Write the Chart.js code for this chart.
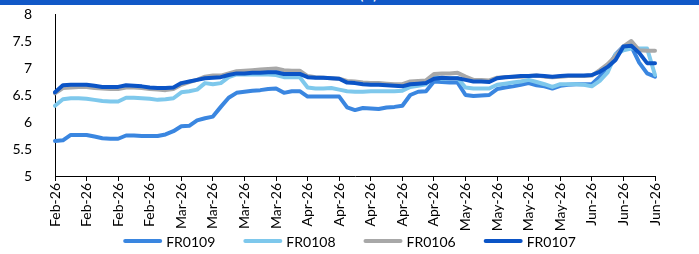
<!DOCTYPE html>
<html>
<head>
<meta charset="utf-8">
<script src="https://cdn.jsdelivr.net/npm/chart.js@4/dist/chart.umd.min.js"></script>
<style>
  html, body { margin: 0; padding: 0; background: #fff; }
  #wrap { position: relative; width: 699px; height: 254px; overflow: hidden; }
  #bar { position: absolute; left: 0; top: 0; width: 699px; height: 5px; background: #1158c7; overflow: hidden; }
  #bar span { position: absolute; left: 360px; top: -12px; color: #fff; font: bold 12px Lato, sans-serif; }
  canvas { position: absolute; left: 0; top: 0; }
</style>
</head>
<body>
<div id="wrap">
  <canvas id="c" width="699" height="254"></canvas>
  <div id="bar"><span>(%)</span></div>
</div>
<script>
// Tick labels shown on the x axis (one every 4 observations)
const tickLabels = ['Feb-26','Feb-26','Feb-26','Feb-26','Mar-26','Mar-26','Mar-26','Mar-26',
  'Apr-26','Apr-26','Apr-26','Apr-26','Apr-26','May-26','May-26','May-26','May-26',
  'Jun-26','Jun-26','Jun-26'];
const pointsPerTick = 4;
// Observation categories (index of each observation)
const categories = Array.from({length: 77}, (_, i) => i);

const fr0109 = [5.65,5.66,5.76,5.76,5.76,5.73,5.70,5.69,5.69,5.75,5.75,5.74,5.74,5.74,5.77,5.83,
  5.92,5.93,6.03,6.07,6.10,6.28,6.45,6.54,6.56,6.58,6.59,6.61,6.62,6.54,6.57,6.57,
  6.47,6.47,6.47,6.47,6.47,6.27,6.22,6.26,6.25,6.24,6.27,6.28,6.30,6.50,6.56,6.57,
  6.75,6.74,6.73,6.73,6.50,6.48,6.49,6.50,6.61,6.64,6.66,6.69,6.72,6.68,6.66,6.62,
  6.67,6.69,6.70,6.70,6.70,6.84,7.00,7.25,7.40,7.40,7.10,6.90,6.84];
const fr0108 = [6.30,6.42,6.44,6.44,6.43,6.41,6.39,6.38,6.38,6.45,6.45,6.44,6.43,6.41,6.42,6.44,
  6.55,6.57,6.60,6.72,6.70,6.72,6.83,6.88,6.88,6.88,6.88,6.88,6.87,6.83,6.83,6.83,
  6.64,6.62,6.62,6.63,6.60,6.57,6.56,6.56,6.57,6.57,6.57,6.57,6.58,6.65,6.67,6.70,
  6.86,6.80,6.81,6.81,6.64,6.62,6.62,6.62,6.69,6.71,6.73,6.75,6.78,6.74,6.70,6.65,
  6.70,6.70,6.70,6.69,6.66,6.76,6.92,7.25,7.33,7.36,7.36,7.36,6.87];
const fr0106 = [6.53,6.63,6.64,6.65,6.65,6.63,6.62,6.61,6.61,6.64,6.64,6.63,6.61,6.60,6.59,6.61,
  6.69,6.74,6.78,6.84,6.86,6.86,6.90,6.94,6.95,6.96,6.97,6.98,6.99,6.96,6.95,6.95,
  6.85,6.83,6.82,6.81,6.80,6.76,6.75,6.73,6.72,6.72,6.71,6.70,6.70,6.75,6.76,6.77,
  6.89,6.90,6.90,6.91,6.84,6.78,6.78,6.77,6.82,6.83,6.84,6.84,6.85,6.86,6.84,6.83,
  6.84,6.85,6.85,6.85,6.86,6.96,7.07,7.22,7.40,7.50,7.33,7.32,7.32];
const fr0107 = [6.55,6.68,6.69,6.69,6.69,6.67,6.65,6.65,6.65,6.68,6.67,6.66,6.64,6.63,6.63,6.64,
  6.72,6.75,6.78,6.81,6.82,6.83,6.87,6.90,6.90,6.91,6.91,6.92,6.92,6.89,6.89,6.89,
  6.83,6.82,6.82,6.81,6.80,6.73,6.72,6.70,6.69,6.69,6.68,6.67,6.66,6.70,6.71,6.72,
  6.80,6.82,6.81,6.81,6.78,6.75,6.75,6.74,6.81,6.83,6.84,6.85,6.85,6.86,6.85,6.84,
  6.85,6.86,6.86,6.86,6.87,6.93,7.02,7.15,7.40,7.41,7.28,7.09,7.09];

const yMin = 5, yMax = 8, yStep = 0.5;
const FONT = 'Lato';

function ds(label, data, color, order) {
  return { label, data, borderColor: color, backgroundColor: color, borderWidth: 4,
    pointRadius: 0, fill: false, tension: 0, order, borderJoinStyle: 'round', borderCapStyle: 'round' };
}

// Legend drawn below the axis, centred on the canvas
const bottomLegend = {
  id: 'bottomLegend',
  afterDraw(chart) {
    const ctx = chart.ctx;
    const lineW = 39, gap = 4, itemGap = 28, cy = 241;
    ctx.save();
    ctx.font = '14px ' + FONT;
    const items = chart.data.datasets.map(d => ({ d, w: ctx.measureText(d.label).width }));
    const total = items.reduce((s, it) => s + lineW + gap + it.w, 0) + itemGap * (items.length - 1);
    let x = (chart.width - total) / 2;
    items.forEach(it => {
      ctx.strokeStyle = it.d.borderColor;
      ctx.lineWidth = 4;
      ctx.lineCap = 'round';
      ctx.beginPath();
      ctx.moveTo(x + 2, cy);
      ctx.lineTo(x + lineW - 2, cy);
      ctx.stroke();
      ctx.fillStyle = '#000';
      ctx.textBaseline = 'middle';
      ctx.textAlign = 'left';
      ctx.fillText(it.d.label, x + lineW + gap, cy + 1);
      x += lineW + gap + it.w + itemGap;
    });
    ctx.restore();
  }
};

new Chart(document.getElementById('c'), {
  type: 'line',
  data: {
    labels: categories,
    datasets: [
      ds('FR0109', fr0109, '#3a86e0', 4),
      ds('FR0108', fr0108, '#7ec8ec', 3),
      ds('FR0106', fr0106, '#a8a8a8', 2),
      ds('FR0107', fr0107, '#0b54c6', 1)
    ]
  },
  plugins: [bottomLegend],
  options: {
    responsive: false,
    animation: false,
    layout: { padding: { left: 0, right: 44, top: 14, bottom: 22 } },
    plugins: {
      tooltip: { enabled: false },
      legend: { display: false }
    },
    scales: {
      x: {
        type: 'category',
        offset: false,
        grid: { display: true, drawOnChartArea: false, drawTicks: true, tickLength: 5, color: '#000' },
        border: { display: true, color: '#000', width: 1 },
        ticks: {
          autoSkip: false, minRotation: 90, maxRotation: 90, padding: 2,
          color: '#000', font: { family: FONT, size: 14 },
          callback: (v, i) => (i % pointsPerTick === 0 ? tickLabels[i / pointsPerTick] : null)
        },
        afterFit: s => { s.height = 56; }
      },
      y: {
        min: yMin, max: yMax,
        grid: { display: false },
        border: { display: true, color: '#000', width: 1 },
        ticks: { stepSize: yStep, padding: 15, color: '#000', font: { family: FONT, size: 14 },
          callback: v => String(v) },
        afterFit: s => { s.width = 55; s.paddingTop = 0; s.paddingBottom = 0; }
      }
    }
  }
});
</script>
</body>
</html>
